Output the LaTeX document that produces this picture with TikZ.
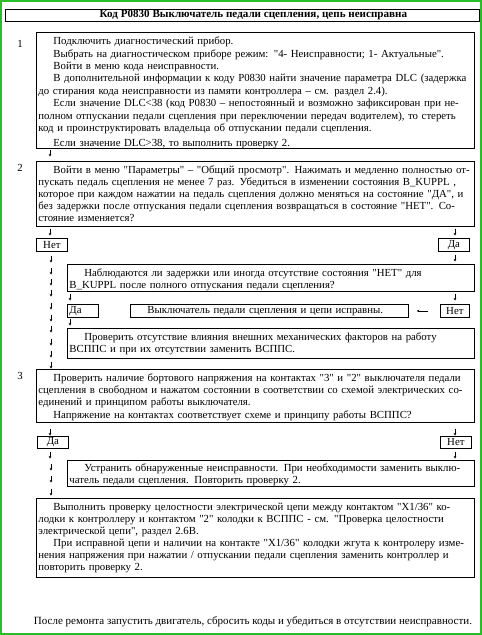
\documentclass[tikz,border=0pt]{standalone}
\usepackage{fontspec}
\setmainfont{Liberation Serif}[Ligatures=TeXOff]
\usetikzlibrary{arrows.meta}
\setlength\parindent{0pt}
\newcommand\jl[1]{\makebox[\hsize][s]{#1}}
\newcommand\ind{\hspace*{15pt}}
\newcommand\topstrut[1]{\rule{0pt}{#1}}
\definecolor{frame}{RGB}{40,190,40}
\begin{document}
\begin{tikzpicture}[x=1pt,y=-1pt,
  txt/.style={font=\fontsize{10.8}{12.1}\selectfont},
  box/.style={txt, draw, line width=0.8pt, inner xsep=2pt, inner ysep=0pt, anchor=north west, align=left},
  yn/.style={txt, draw, line width=0.8pt, inner sep=0pt, anchor=north west, minimum width=31pt, minimum height=13pt},
  dnarrow/.style={line width=0.5pt, -{Stealth[length=2.6pt,width=2.6pt]}},
  lfarrow/.style={line width=0.5pt, -{Stealth[length=2.6pt,width=2.6pt]}}]
\newcommand\dn[2]{\draw[dnarrow] (#1,#2-3.5) -- (#1,#2+3.5);}
\useasboundingbox (0,0) rectangle (482,635);
\draw[frame, line width=2pt] (1,1) rectangle (481,634);

% title
\node[draw, line width=0.8pt, anchor=north west, minimum width=474pt, minimum height=12pt, inner sep=0pt] (tbox) at (5,9) {};
\node[font=\fontsize{11.1}{12}\selectfont\bfseries, inner sep=0pt] (ttl) at ([xshift=11pt]tbox.center) {Код P0830 Выключатель педали сцепления, цепь неисправна};

% step 1
\node[txt] (n1) at (20,44) {1};
\node[box, text width=434pt, minimum height=116pt, font=\fontsize{10.8}{12.35}\selectfont] (b1) at (36,32) {%
\topstrut{12.5pt}\ind Подключить диагностический прибор.\\
\ind Выбрать на диагностическом приборе режим: "4- Неисправности; 1- Актуальные".\\
\ind Войти в меню кода неисправности.\\
\jl{\ind В дополнительной информации к коду P0830 найти значение параметра DLC (задержка}\\
до стирания кода неисправности из памяти контроллера – см. раздел 2.4).\\
\jl{\ind Если значение DLC<38 (код P0830 – непостоянный и возможно зафиксирован при не-}\\
\jl{полном отпускании педали сцепления при переключении передач водителем), то стереть}\\
код и проинструктировать владельца об отпускании педали сцепления.\\[2.5pt]
\ind Если значение DLC>38, то выполнить проверку 2.};
\dn{50}{153}

% step 2
\node[txt] (n2) at (20,168) {2};
\node[box, text width=434pt, minimum height=65pt] (b2) at (36,161) {%
\jl{\ind Войти в меню "Параметры" – "Общий просмотр". Нажимать и медленно полностью от-}\\
\jl{пускать педаль сцепления не менее 7 раз. Убедиться в изменении состояния B\_KUPPL ,}\\
\jl{которое при каждом нажатии на педаль сцепления должно меняться на состояние "ДА", и}\\
\jl{без задержки после отпускания педали сцепления возвращаться в состояние "НЕТ". Со-}\\
стояние изменяется?};
\dn{50}{232}
\dn{455}{232}
\node[yn] (no1) at (36,238) {Нет};
\node[yn] (yes1) at (438,238) {Да};
\foreach \yy in {259,271,282,293,306,318,329,342,354,365} {\dn{51}{\yy}}
\dn{455}{258}

\node[box, text width=403pt, minimum height=27pt] (b2a) at (67,264) {%
\jl{\topstrut{11.3pt}\ind Наблюдаются ли задержки или иногда отсутствие состояния "НЕТ" для}\\
B\_KUPPL после полного отпускания педали сцепления?};
\dn{70}{297}
\dn{455}{297}
\node[yn, text width=27pt, align=left, inner xsep=2pt] (yes2) at (67,304) {Да};
\node[box, text width=274pt, minimum height=13pt] (ok) at (130,304) {\ind Выключатель педали сцепления и цепи исправны.};
\node[yn, minimum width=29pt] (no2) at (440,304) {Нет};
\draw[lfarrow] ([xshift=-12pt]no2.west) -- ([xshift=8pt]ok.east);
\dn{70}{322}
\node[box, text width=403pt, minimum height=30pt] (b2b) at (67,328) {%
\jl{\ind Проверить отсутствие влияния внешних механических факторов на работу}\\
ВСППС и при их отсутствии заменить ВСППС.};

% step 3
\node[txt] (n3) at (20,376) {3};
\node[box, text width=434pt, minimum height=53pt] (b3) at (36,369) {%
\jl{\topstrut{10.3pt}\ind Проверить наличие бортового напряжения на контактах "3" и "2" выключателя педали}\\
\jl{сцепления в свободном и нажатом состоянии в соответствии со схемой электрических со-}\\
единений и принципом работы выключателя.\\
\ind Напряжение на контактах соответствует схеме и принципу работы ВСППС?};
\dn{50}{432}
\dn{455}{432}
\node[yn, minimum height=12pt] (yes3) at (37,436) {Да};
\node[yn, minimum height=12pt] (no3) at (440,436) {Нет};
\dn{50}{455}
\dn{455}{455}
\node[box, text width=403pt, minimum height=26pt] (b3a) at (67,460) {%
\jl{\topstrut{11.3pt}\ind Устранить обнаруженные неисправности. При необходимости заменить выклю-}\\
чатель педали сцепления. Повторить проверку 2.};
\foreach \yy in {467,479,492} {\dn{51}{\yy}}

\node[box, text width=434pt, minimum height=79pt] (b4) at (36,498) {%
\jl{\ind Выполнить проверку целостности электрической цепи между контактом "X1/36" ко-}\\
\jl{лодки к контроллеру и контактом "2" колодки к ВСППС - см. "Проверка целостности}\\
электрической цепи", раздел 2.6В.\\
\jl{\ind При исправной цепи и наличии на контакте "X1/36" колодки жгута к контролеру изме-}\\
\jl{нения напряжения при нажатии / отпускании педали сцепления заменить контроллер и}\\
повторить проверку 2.};

\node[font=\fontsize{11}{12}\selectfont, inner sep=0pt] (foot) at (253,622) {После ремонта запустить двигатель, сбросить коды и убедиться в отсутствии неисправности.};
\end{tikzpicture}
\end{document}
